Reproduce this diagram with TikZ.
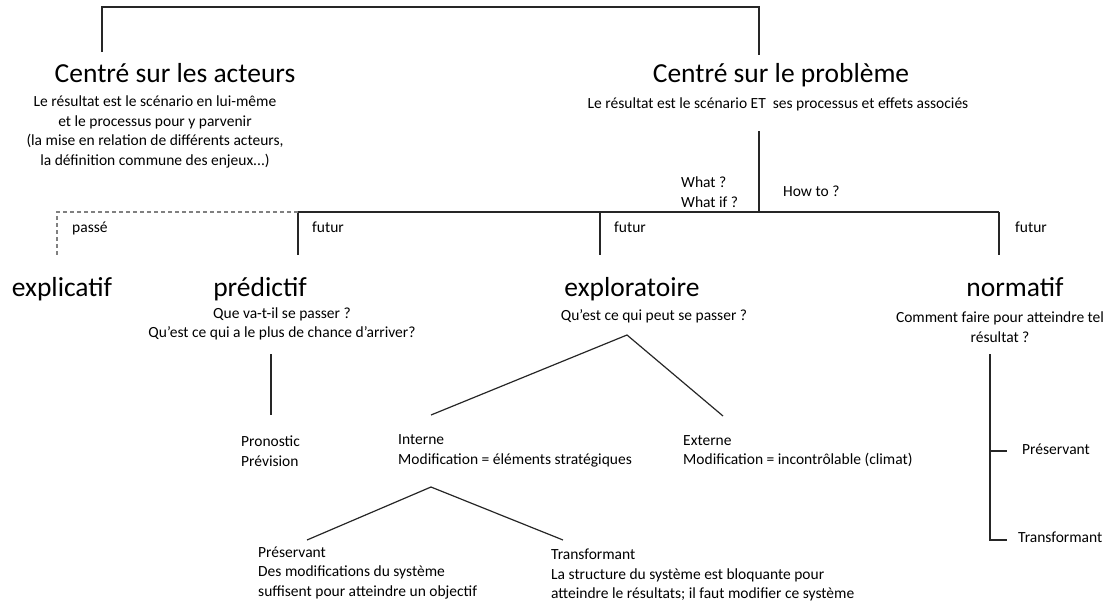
\documentclass[tikz,border=0pt]{standalone}
\usepackage{fontspec}
\setmainfont{Carlito}
\usepackage{tikz}
\usetikzlibrary{
	positioning
}

\tikzset{
	titre/.style={font=\fontsize{27.5}{32}\selectfont, inner sep=0pt, anchor=base},
	texte/.style={font=\fontsize{15.5}{19.5}\selectfont, inner sep=0pt, align=center},
	etiq/.style={font=\fontsize{15.5}{19.5}\selectfont, inner sep=0pt, align=left, anchor=west},
	trait/.style={line width=1.2pt, draw=black!85},
	pointille/.style={line width=1.2pt, draw=black!50, dash pattern=on 4pt off 3pt}
}

\begin{document}
\begin{tikzpicture}[x=1pt, y=-1pt]
	\useasboundingbox (0,0) rectangle (1116,605);
	\draw
		node [titre]              (acteurs)   at (175,82)  {Centré sur les acteurs}
		node [titre]              (probleme)  at (781,82)  {Centré sur le problème}
		node [texte]              (acteursT)  at (155,132) {Le résultat est le scénario en lui-même\\et le processus pour y parvenir\\(la mise en relation de différents acteurs,\\la définition commune des enjeux...)}
		node [texte,anchor=base]  (problemeT) at (778,108) {Le résultat est le scénario ET\ \ ses processus et effets associés}
		node [etiq]               (what)      at (681,192) {What ?\\What if ?}
		node [etiq,anchor=base west] (howto)  at (783,196) {How to ?}
		node [etiq,anchor=base west] (passe)  at (72,232)  {passé}
		node [etiq,anchor=base west] (futurP) at (312,232) {futur}
		node [etiq,anchor=base west] (futurE) at (614,232) {futur}
		node [etiq,anchor=base west] (futurN) at (1015,232) {futur}
		node [titre]              (explic)    at (62,296)  {explicatif}
		node [titre]              (predic)    at (260,296) {prédictif}
		node [titre]              (explor)    at (632,296) {exploratoire}
		node [titre]              (normat)    at (1015,296) {normatif}
		node [texte]              (predicT)   at (282,324) {Que va-t-il se passer ?\\Qu’est ce qui a le plus de chance d’arriver?}
		node [texte,anchor=base]  (explorT)   at (654,320) {Qu’est ce qui peut se passer ?}
		node [texte]              (normatT)   at (1000,327) {Comment faire pour atteindre tel\\résultat ?}
		node [etiq]               (pronostic) at (241,451) {Pronostic\\Prévision}
		node [etiq]               (interne)   at (398,451) {Interne\\Modification = éléments stratégiques}
		node [etiq]               (externe)   at (683,451) {Externe\\Modification = incontrôlable (climat)}
		node [etiq]               (preserv)   at (258,573) {Préservant\\Des modifications du système\\suffisent pour atteindre un objectif}
		node [etiq]               (transf)    at (551,575) {Transformant\\La structure du système est bloquante pour\\atteindre le résultats; il faut modifier ce système}
		node [etiq,anchor=base west] (normPresT)  at (1022,454) {Préservant}
		node [etiq,anchor=base west] (normTransfT) at (1018,542) {Transformant}
	;

	\coordinate (crochetG)      at (102,52);
	\coordinate (crochetD)      at (759,55);
	\coordinate (pbBas)         at (759,131);
	\coordinate (jPb)           at (759,212);
	\coordinate (jPasse)        at (57,212);
	\coordinate (jPred)         at (298,212);
	\coordinate (jExplo)        at (600,212);
	\coordinate (jNorm)         at (999,212);
	\coordinate (predHaut)      at (271,354);
	\coordinate (predBas)       at (271,415);
	\coordinate (exploSommet)   at (627,335);
	\coordinate (interneHaut)   at (431,415);
	\coordinate (externeHaut)   at (723,416);
	\coordinate (interneSommet) at (431,487);
	\coordinate (preservHaut)   at (307,540);
	\coordinate (transfHaut)    at (563,540);
	\coordinate (normHaut)      at (990,354);
	\coordinate (normPres)      at (990,451);
	\coordinate (normTransf)    at (990,540);

	\draw[trait] (crochetG) -- ++(0,-45) -| (crochetD);
	\draw[trait] (pbBas) -- (jPb);
	\draw[trait] (jPred) -- (jNorm);
	\draw[trait] (jPred) -- ++(0,43);
	\draw[trait] (jExplo) -- ++(0,43);
	\draw[trait] (jNorm) -- ++(0,43);
	\draw[pointille] (jPred) -- (jPasse) -- ++(0,43);
	\draw[trait] (predHaut) -- (predBas);
	\draw[trait] (interneHaut) -- (exploSommet) -- (externeHaut);
	\draw[trait] (preservHaut) -- (interneSommet) -- (transfHaut);
	\draw[trait] (normHaut) -- (normTransf) -- ++(17,0);
	\draw[trait] (normPres) -- ++(17,0);
\end{tikzpicture}
\end{document}
